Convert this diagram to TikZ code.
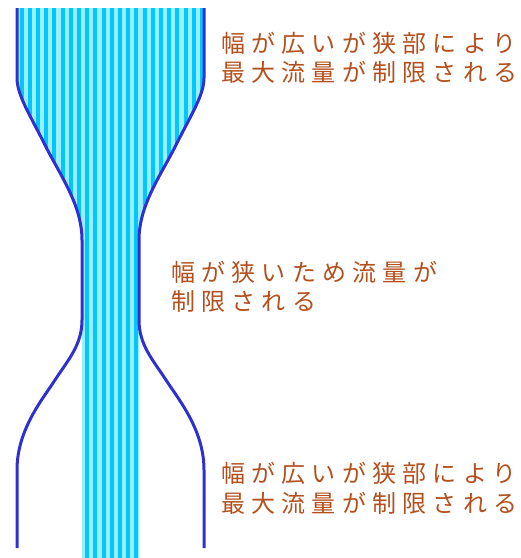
\documentclass[tikz,border=0pt]{standalone}
\usepackage{fontspec}
\newfontfamily\jpfont[LetterSpace=26]{Noto Sans CJK JP}
\definecolor{wallblue}{HTML}{3030D0}
\definecolor{lightc}{HTML}{99EEFF}
\definecolor{darkc}{HTML}{00C8FF}
\definecolor{txtbrown}{HTML}{B4501E}
\begin{document}
\begin{tikzpicture}[x=1pt,y=-1pt,
  wall/.style={draw=wallblue,line width=3pt},
  lbl/.style={font=\jpfont\fontsize{24}{29}\selectfont, text=txtbrown, inner sep=0pt, anchor=base west}]
\useasboundingbox (0,0) rectangle (521,558);
\begin{scope}
\clip (17,8) -- (17,78) .. controls (17,95) and (30,115) .. (45,145) .. controls (60,175) and (82,205) .. (82,240) -- (82,558) -- (139,558) -- (139,240) .. controls (139,205) and (161,175) .. (176,145) .. controls (191,115) and (204,95) .. (204,78) -- (204,8) -- cycle;
\fill[lightc] (0,0) rectangle (221,558);
\foreach \i in {0,...,24} \fill[darkc] ({19.5+8.2*\i},0) rectangle ++(4.1,558);
\end{scope}
\draw[wall] (17,8) -- (17,78) .. controls (17,95) and (30,115) .. (45,145) .. controls (60,175) and (82,205) .. (82,240) -- (82,320) .. controls (82,345) and (68,360) .. (55,380) .. controls (42,400) and (17,430) .. (17,470) -- (17,548);
\draw[wall] (204,8) -- (204,78) .. controls (204,95) and (191,115) .. (176,145) .. controls (161,175) and (139,205) .. (139,240) -- (139,320) .. controls (139,345) and (153,360) .. (166,380) .. controls (179,400) and (204,430) .. (204,470) -- (204,548);
\node[lbl] (t1a) at (221,52) {幅が広いが狭部により};
\node[lbl] (t1b) at (221,81) {最大流量が制限される};
\node[lbl] (t2a) at (171,281) {幅が狭いため流量が};
\node[lbl] (t2b) at (171,310) {制限される};
\node[lbl] (t3a) at (221,482) {幅が広いが狭部により};
\node[lbl] (t3b) at (221,512) {最大流量が制限される};
\end{tikzpicture}
\end{document}
